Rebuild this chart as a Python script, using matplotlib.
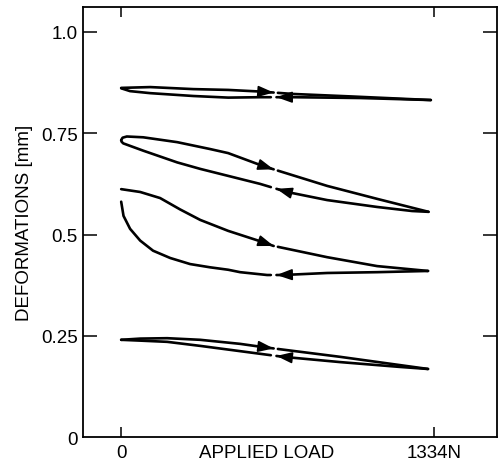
import numpy as np
import matplotlib
matplotlib.use('Agg')
matplotlib.rc('font', **{'family': 'Liberation Sans', 'weight': 'normal', 'size': 13.5})
import matplotlib.pyplot as plt

##############################################################################
# Data (applied load in N, deformation in mm)
##############################################################################
# test 1 (top)
load1_up = [0, 124, 307, 456, 592, 733, 976, 1320]
def1_up = [0.862, 0.864, 0.859, 0.857, 0.853, 0.847, 0.841, 0.832]
load1_dn = [1320, 1019, 733, 592, 456, 307, 124, 38, 0]
def1_dn = [0.832, 0.837, 0.839, 0.839, 0.838, 0.842, 0.849, 0.854, 0.861]

# test 2
load2_up = [0, 6, 24, 94, 239, 379, 456, 605, 878, 1091, 1310]
def2_up = [0.733, 0.739, 0.742, 0.740, 0.728, 0.711, 0.701, 0.669, 0.620, 0.588, 0.556]
load2_dn = [1310, 1240, 1091, 878, 707, 592, 337, 239, 94, 9, 2, 0]
def2_dn = [0.556, 0.558, 0.568, 0.585, 0.605, 0.625, 0.662, 0.678, 0.707, 0.725, 0.729, 0.733]

# test 3
load3_up = [0, 81, 166, 251, 337, 456, 605, 648, 878, 1091, 1308]
def3_up = [0.612, 0.605, 0.590, 0.562, 0.536, 0.509, 0.481, 0.472, 0.444, 0.422, 0.410]
load3_dn = [1308, 1091, 878, 690, 622, 507, 456, 379, 294, 209, 136, 81, 38, 10, 0]
def3_dn = [0.410, 0.407, 0.405, 0.400, 0.400, 0.407, 0.413, 0.419, 0.427, 0.442, 0.460,
           0.485, 0.514, 0.546, 0.581]

# test 4 (bottom)
load4_up = [0, 81, 196, 337, 507, 605, 933, 1308]
def4_up = [0.240, 0.243, 0.244, 0.240, 0.230, 0.222, 0.198, 0.168]
load4_dn = [1308, 1189, 933, 690, 507, 337, 196, 81, 0]
def4_dn = [0.168, 0.173, 0.185, 0.198, 0.212, 0.225, 0.235, 0.238, 0.240]

xtick_vals = [0, 618, 1334]
xtick_labels = ['0', 'APPLIED LOAD', '1334N']
ytick_vals = [0, 0.25, 0.5, 0.75, 1.0]
ytick_labels = ['0', '0.25', '0.5', '0.75', '1.0']

##############################################################################
# Figure
##############################################################################
fig = plt.figure(figsize=(4.98, 4.64), dpi=100)
ax = fig.add_axes([0.167, 0.056, 0.831, 0.927])

LW = 1.9
TIP_UP, TIP_DN = 650, 662    # arrow tip positions along the load axis
GAP = 18
HEAD = 55


def branch(x, y, loading):
    x = np.asarray(x, float)
    y = np.asarray(y, float)
    order = np.argsort(x)
    xs, ys = x[order], y[order]
    if loading:
        tip, g0, g1, tail = TIP_UP, TIP_UP, TIP_UP + GAP, TIP_UP - HEAD
    else:
        tip, g0, g1, tail = TIP_DN, TIP_DN - GAP - 6, TIP_DN, TIP_DN + HEAD
    # line in two pieces with a small gap next to the arrow tip
    left = xs < g0
    right = xs > g1
    xa = np.r_[xs[left], g0]
    ya = np.r_[ys[left], np.interp(g0, xs, ys)]
    xb = np.r_[g1, xs[right]]
    yb = np.r_[np.interp(g1, xs, ys), ys[right]]
    ax.plot(xa, ya, color='k', lw=LW, solid_capstyle='round', solid_joinstyle='round')
    ax.plot(xb, yb, color='k', lw=LW, solid_capstyle='round', solid_joinstyle='round')
    ax.annotate('', xy=(tip, np.interp(tip, xs, ys)),
                xytext=(tail, np.interp(tail, xs, ys)),
                arrowprops=dict(arrowstyle='-|>,head_length=0.95,head_width=0.34',
                                color='k', lw=1.2, shrinkA=0, shrinkB=0,
                                mutation_scale=10))


for xu, yu, xd, yd in [(load1_up, def1_up, load1_dn, def1_dn),
                       (load2_up, def2_up, load2_dn, def2_dn),
                       (load3_up, def3_up, load3_dn, def3_dn),
                       (load4_up, def4_up, load4_dn, def4_dn)]:
    branch(xu, yu, True)
    branch(xd, yd, False)

ax.set_xlim(-162, 1602)
ax.set_ylim(0, 1.062)

ax.set_xticks(xtick_vals)
ax.set_xticklabels(xtick_labels)
ax.set_yticks(ytick_vals)
ax.set_yticklabels(ytick_labels)
ax.tick_params(direction='in', top=True, right=True, width=1.1, length=7, pad=5)
ax.tick_params(axis='y', which='major', left=True, length=10, pad=4)
ax.yaxis.get_major_ticks()[0].tick1line.set_visible(False)
ax.yaxis.get_major_ticks()[0].tick2line.set_visible(False)
ax.xaxis.get_major_ticks()[1].tick1line.set_visible(False)
ax.xaxis.get_major_ticks()[1].tick2line.set_visible(False)
for s in ax.spines.values():
    s.set_linewidth(1.3)

ax.set_ylabel('DEFORMATIONS [mm]', labelpad=6)

fig.savefig('out.png', dpi=100)
